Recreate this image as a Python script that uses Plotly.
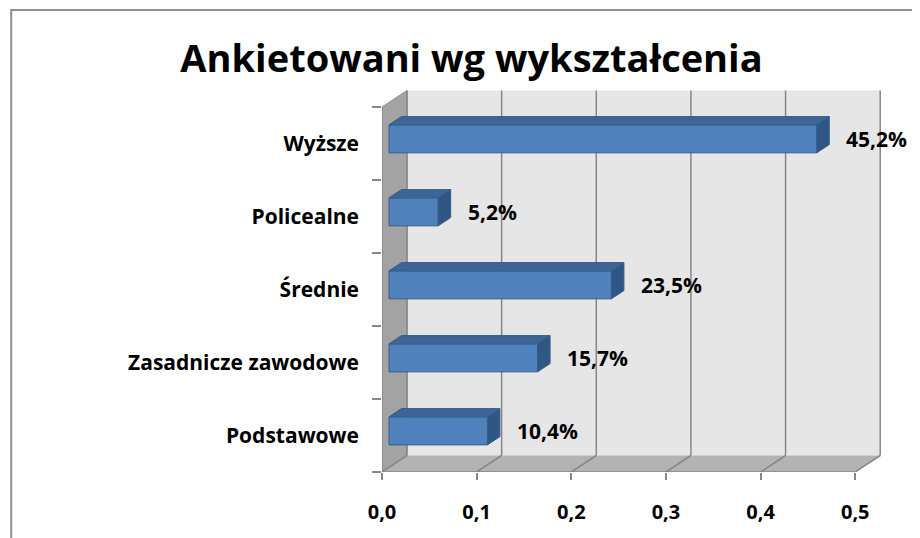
import plotly.graph_objects as go

# ---------------- data ----------------
categories = ["Podstawowe", "Zasadnicze zawodowe", "Średnie", "Policealne", "Wyższe"]
shares = [0.104, 0.157, 0.235, 0.052, 0.452]
x_ticks = [0.0, 0.1, 0.2, 0.3, 0.4, 0.5]
title_text = "Ankietowani wg wykształcenia"

# ---------------- geometry / style ----------------
W, H = 920, 538
PAGE_OFF = 8.0    # default page body margin, compensated here
PX_X = 947.0      # pixels per 1.0 on value axis
PX_Y = 73.0       # pixels per category band
X0_PX = 382.0 - PAGE_OFF    # pixel of front value 0
Y0_PX = 472.0 - PAGE_OFF    # pixel of front floor edge
DX = 25.0 / PX_X          # depth offset (x, data units)
DY = 16.5 / PX_Y          # depth offset (y, data units)
F_FRONT = 0.28            # bar front face depth fraction
F_DEPTH = 0.5             # bar depth fraction
BAR_H = 28.0 / PX_Y

n = len(categories)
ypos = list(range(n))
y_lo, y_hi = -0.5, n - 0.5
x_top = x_ticks[-1]
xmax = x_top + DX + 0.004
ymin, ymax = y_lo, y_hi + DY + 0.02

l = X0_PX
r = W - (X0_PX + xmax * PX_X)
b = H - Y0_PX
t = Y0_PX - (ymax - ymin) * PX_Y
pw = W - l - r
ph = H - t - b

FONT = "Open Sans"
GRID = "#878787"
FRONT = "#4F81BD"
TOP = "#3D6595"
SIDE = "#2F5785"
EDGE = "#385D8A"

bar_base = F_FRONT * DX
bar_shift = F_FRONT * DY


def poly(pts):
    return "M " + " L ".join(f"{x},{y}" for x, y in pts) + " Z"


shapes = []
# back wall
shapes.append(dict(type="rect", xref="x", yref="y", layer="below",
                   x0=DX, x1=x_top + DX, y0=y_lo + DY, y1=y_hi + DY,
                   fillcolor="#E6E6E6", line=dict(width=0)))
# left wall
shapes.append(dict(type="path", xref="x", yref="y", layer="below",
                   path=poly([(0, y_lo), (0, y_hi), (DX, y_hi + DY), (DX, y_lo + DY)]),
                   fillcolor="#A3A3A3", line=dict(color="#8E8E8E", width=1)))
# floor
shapes.append(dict(type="path", xref="x", yref="y", layer="below",
                   path=poly([(0, y_lo), (x_top, y_lo), (x_top + DX, y_lo + DY), (DX, y_lo + DY)]),
                   fillcolor="#B3B3B3", line=dict(width=0)))
# gridlines on back wall and floor
for v in x_ticks:
    shapes.append(dict(type="line", xref="x", yref="y", layer="below",
                       x0=v + DX, x1=v + DX, y0=y_lo + DY, y1=y_hi + DY,
                       line=dict(color=GRID, width=1.5)))
    shapes.append(dict(type="line", xref="x", yref="y", layer="below",
                       x0=v, x1=v + DX, y0=y_lo, y1=y_lo + DY,
                       line=dict(color=GRID, width=1.5)))
# front axis edges
shapes.append(dict(type="line", xref="x", yref="y", layer="below",
                   x0=0, x1=x_top, y0=y_lo, y1=y_lo, line=dict(color=GRID, width=1.5)))
shapes.append(dict(type="line", xref="x", yref="y", layer="below",
                   x0=0, x1=0, y0=y_lo, y1=y_hi, line=dict(color=GRID, width=1.5)))

# 3D bar top and side faces
annotations = []
for yi, v in zip(ypos, shares):
    xb = bar_base
    yb = yi - BAR_H / 2 + bar_shift
    yt = yi + BAR_H / 2 + bar_shift
    ddx, ddy = F_DEPTH * DX, F_DEPTH * DY
    shapes.append(dict(type="path", xref="x", yref="y", layer="above",
                       path=poly([(xb, yt), (xb + v, yt), (xb + v + ddx, yt + ddy), (xb + ddx, yt + ddy)]),
                       fillcolor=TOP, line=dict(color=EDGE, width=1)))
    shapes.append(dict(type="path", xref="x", yref="y", layer="above",
                       path=poly([(xb + v, yb), (xb + v, yt), (xb + v + ddx, yt + ddy), (xb + v + ddx, yb + ddy)]),
                       fillcolor=SIDE, line=dict(color=EDGE, width=1)))
    label = f"{v * 100:.1f}%".replace(".", ",")
    annotations.append(dict(x=xb + v + ddx, y=yi + bar_shift, xref="x", yref="y",
                            text=f"<b>{label}</b>", showarrow=False, xanchor="left",
                            yanchor="middle", xshift=15,
                            font=dict(family=FONT, size=21, color="black")))


# chart border (outer frame)
def px2paper_x(px):
    return (px - PAGE_OFF - l) / pw


def px2paper_y(py):
    return (H - b - (py - PAGE_OFF)) / ph


shapes.append(dict(type="rect", xref="paper", yref="paper", layer="above",
                   x0=px2paper_x(11), x1=px2paper_x(940),
                   y0=px2paper_y(560), y1=px2paper_y(10),
                   fillcolor="rgba(0,0,0,0)", line=dict(color="#8F8F8F", width=2)))

fig = go.Figure()
fig.add_trace(go.Bar(
    orientation="h", y=ypos, x=shares, base=bar_base,
    width=BAR_H, offset=-BAR_H / 2 + bar_shift,
    marker=dict(color=FRONT, line=dict(color=EDGE, width=1)),
    hoverinfo="skip", showlegend=False,
))

fig.update_layout(
    width=W, height=H, template="none",
    margin=dict(l=l, r=r, t=t, b=b, pad=0),
    paper_bgcolor="white", plot_bgcolor="rgba(0,0,0,0)",
    separators=", ",
    showlegend=False,
    shapes=shapes,
    annotations=annotations,
    title=dict(text=title_text, x=(471.5 - PAGE_OFF) / W, xref="container", xanchor="center",
               y=1 - (59 - PAGE_OFF) / H, yref="container", yanchor="middle",
               font=dict(family=FONT, size=38, color="black", weight="bold")),
    xaxis=dict(range=[0, xmax], tickvals=x_ticks, tickformat=".1f",
               showgrid=False, zeroline=False, showline=False,
               ticks="outside", ticklen=7, tickcolor=GRID, tickwidth=1.5,
               ticklabelstandoff=15, automargin=False,
               tickfont=dict(family=FONT, size=20, color="black", weight="bold")),
    yaxis=dict(range=[ymin, ymax], tickvals=ypos, ticktext=categories,
               showgrid=False, zeroline=False, showline=False,
               ticks="", ticklabelstandoff=22, automargin=False,
               minor=dict(tickvals=[i - 0.5 for i in range(n + 1)], ticks="outside",
                          ticklen=9, tickcolor=GRID, tickwidth=1.5, showgrid=False),
               tickfont=dict(family=FONT, size=21, color="black", weight="bold")),
)

fig.write_html("out.html")
